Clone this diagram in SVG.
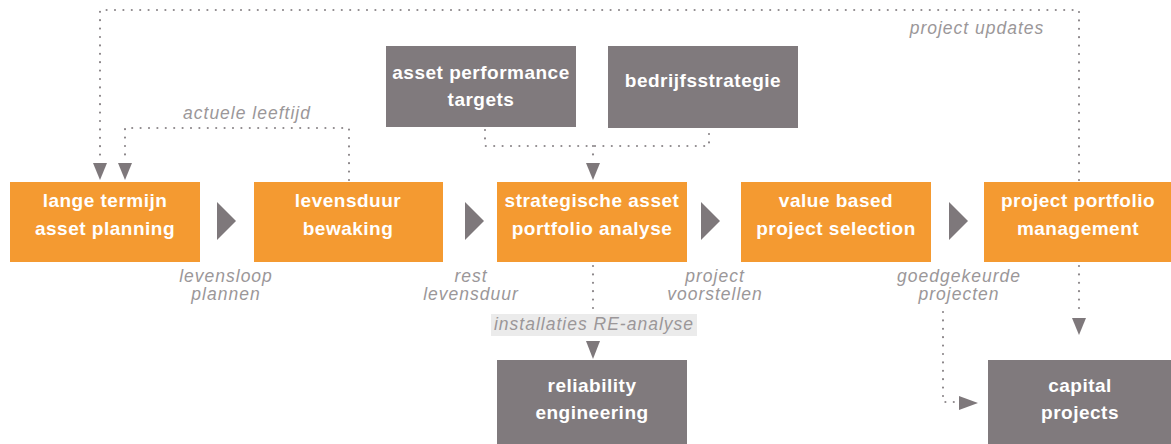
<svg xmlns="http://www.w3.org/2000/svg" width="1171" height="444" viewBox="0 0 1171 444">
<style>
.ob{fill:#f49a31}
.gb{fill:#807a7d}
.bt{font-family:"Liberation Sans",Arial,sans-serif;font-weight:bold;font-size:19px;letter-spacing:0.5px;fill:#ffffff;text-anchor:middle}
.lb{font-family:"Liberation Sans",Arial,sans-serif;font-style:italic;font-size:17.5px;letter-spacing:1px;fill:#9b9799;text-anchor:middle}
.dot{fill:none;stroke:#8d888b;stroke-width:2.2;stroke-linecap:round;stroke-dasharray:0 8.4}
.ah{fill:#7e787b}
</style>
<rect width="1171" height="444" fill="#ffffff"/>
<g id="connectors">
<path class="dot" d="M1079,180 V10 H100 V158"/>
<path class="dot" d="M349,180 V128 H125 V158"/>
<path class="dot" d="M485,130 V146 H709 V130"/>
<path class="dot" d="M593,146 V158"/>
<path class="dot" d="M593,266 V338"/>
<path class="dot" d="M1079,266 V314"/>
<path class="dot" d="M943,312 V402 H956"/>
<polygon class="ah" points="93,163 107,163 100,180"/>
<polygon class="ah" points="118,163 132,163 125,180"/>
<polygon class="ah" points="586,163 600,163 593,180"/>
<polygon class="ah" points="586,341 600,341 593,359"/>
<polygon class="ah" points="1072,318 1086,318 1079,335"/>
<polygon class="ah" points="959,396 959,410 978,403"/>
<polygon class="ah" points="217,202 236,221 217,240"/>
<polygon class="ah" points="465,202 484,221 465,240"/>
<polygon class="ah" points="701,202 720,221 701,240"/>
<polygon class="ah" points="949,202 968,221 949,240"/>
<text class="lb" x="247" y="119">actuele leeftijd</text>
<text class="lb" x="977" y="34">project updates</text>
<text class="lb" x="226" y="282">levensloop</text>
<text class="lb" x="226" y="300">plannen</text>
<text class="lb" x="471" y="282">rest</text>
<text class="lb" x="471" y="300">levensduur</text>
<text class="lb" x="715" y="282">project</text>
<text class="lb" x="715" y="300">voorstellen</text>
<text class="lb" x="959" y="282">goedgekeurde</text>
<text class="lb" x="959" y="300">projecten</text>
<rect x="491" y="314" width="206" height="22" fill="#ebebeb"/>
<text class="lb" x="594" y="330">installaties RE-analyse</text>
</g>
<g id="node-lange-termijn">
<rect class="ob" x="10" y="182" width="190" height="80"/>
<text class="bt" x="105" y="207">lange termijn</text>
<text class="bt" x="105" y="235">asset planning</text>
</g>
<g id="node-levensduur">
<rect class="ob" x="254" y="182" width="189" height="80"/>
<text class="bt" x="348" y="207">levensduur</text>
<text class="bt" x="348" y="235">bewaking</text>
</g>
<g id="node-strategische">
<rect class="ob" x="497" y="182" width="190" height="80"/>
<text class="bt" x="592" y="207">strategische asset</text>
<text class="bt" x="592" y="235">portfolio analyse</text>
</g>
<g id="node-value-based">
<rect class="ob" x="741" y="182" width="190" height="80"/>
<text class="bt" x="836" y="207">value based</text>
<text class="bt" x="836" y="235">project selection</text>
</g>
<g id="node-project-portfolio">
<rect class="ob" x="984" y="182" width="187" height="80"/>
<text class="bt" x="1078" y="207">project portfolio</text>
<text class="bt" x="1078" y="235">management</text>
</g>
<g id="node-asset-performance">
<rect class="gb" x="386" y="46" width="190" height="81"/>
<text class="bt" x="481" y="79">asset performance</text>
<text class="bt" x="481" y="106">targets</text>
</g>
<g id="node-bedrijfsstrategie">
<rect class="gb" x="608" y="46" width="190" height="82"/>
<text class="bt" x="703" y="87">bedrijfsstrategie</text>
</g>
<g id="node-reliability">
<rect class="gb" x="497" y="360" width="190" height="84"/>
<text class="bt" x="592" y="392">reliability</text>
<text class="bt" x="592" y="419">engineering</text>
</g>
<g id="node-capital">
<rect class="gb" x="988" y="360" width="183" height="84"/>
<text class="bt" x="1080" y="392">capital</text>
<text class="bt" x="1080" y="419">projects</text>
</g>
</svg>
